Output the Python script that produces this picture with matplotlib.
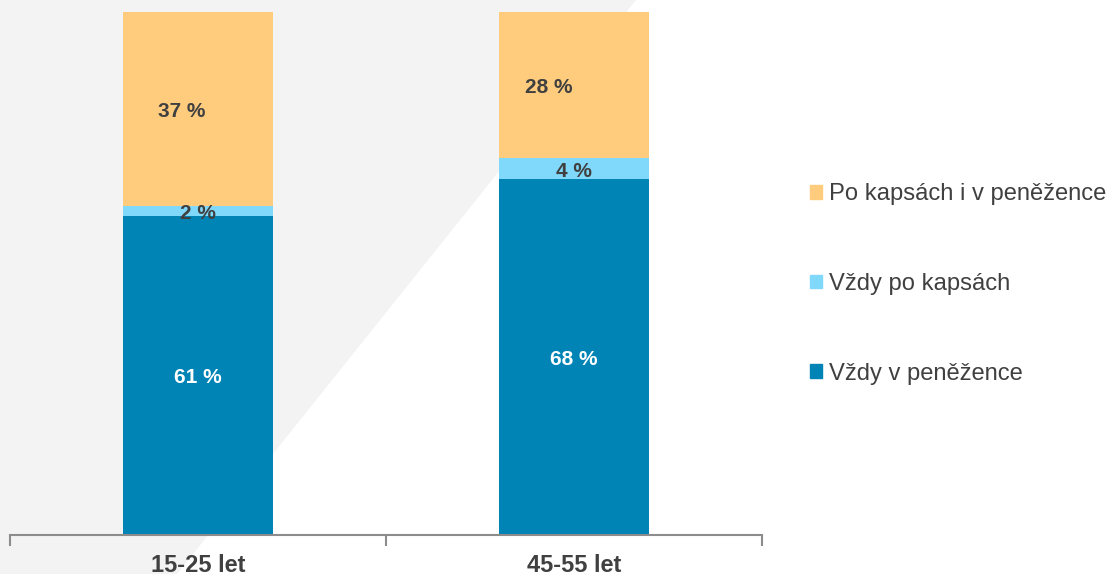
import matplotlib.pyplot as plt
from matplotlib.patches import Polygon, Patch

plt.rcParams['font.family'] = ['Liberation Sans', 'DejaVu Sans']

categories = ["15-25 let", "45-55 let"]
series_names = ["Vždy v peněžence", "Vždy po kapsách", "Po kapsách i v peněžence"]
values = [
    [61, 68],   # Vždy v peněžence
    [2, 4],     # Vždy po kapsách
    [37, 28],   # Po kapsách i v peněžence
]
colors = ["#0083B5", "#80D8FA", "#FFCC7D"]
label_colors = ["white", "#404040", "#404040"]
label_dx = [0, 0, -18]   # small nudge (px) used by the original layout

fig = plt.figure(figsize=(11.11, 5.74), dpi=100)

# light grey diagonal band behind the chart
bg = Polygon([(0, 1), (636 / 1111, 1), (177 / 1111, 0), (0, 0)],
             closed=True, transform=fig.transFigure, facecolor="#F3F3F3",
             edgecolor="none", zorder=-5)
fig.patches.append(bg)

ax = fig.add_axes([10 / 1111, 39 / 574, 752 / 1111, 523 / 574])
ax.set_facecolor("none")
ax.set_zorder(1)

x = list(range(len(categories)))
bottoms = [0] * len(categories)
for i, name in enumerate(series_names):
    ax.bar(x, values[i], width=0.4, bottom=bottoms, color=colors[i],
           label=name, zorder=2)
    for j in x:
        v = values[i][j]
        dx = label_dx[i] * (1.4 if j == 1 else 0.9)
        ax.annotate(f"{v} %", (j, bottoms[j] + v / 2), xytext=(dx * 0.72, -1.8),
                    textcoords="offset points", ha="center", va="center",
                    fontsize=15, fontweight="bold", color=label_colors[i],
                    zorder=3)
    bottoms = [b + v for b, v in zip(bottoms, values[i])]

ax.set_xlim(-0.5, 1.5)
ax.set_ylim(0, 100)
for s in ["top", "right", "left"]:
    ax.spines[s].set_visible(False)
ax.spines["bottom"].set_color("#8C8C8C")
ax.spines["bottom"].set_linewidth(1.5)
ax.set_yticks([])
ax.set_xticks([-0.5, 0.5, 1.5])
ax.set_xticklabels([])
ax.tick_params(axis="x", which="major", length=8, width=1.5, color="#8C8C8C",
               direction="out")
ax.set_xticks(x, minor=True)
ax.set_xticklabels(categories, minor=True, fontsize=17, fontweight="bold",
                   color="#404040")
ax.tick_params(axis="x", which="minor", length=0, pad=14)

handles = [Patch(color=colors[i]) for i in range(len(series_names))][::-1]
fig.legend(handles, series_names[::-1], loc="center left",
           bbox_to_anchor=(789 / 1111, 1 - 284 / 574), frameon=False,
           fontsize=17.1, labelcolor="#404040", handlelength=0.5,
           handleheight=0.5, handletextpad=0.3, labelspacing=2.85)

fig.savefig("out.png", dpi=100)
